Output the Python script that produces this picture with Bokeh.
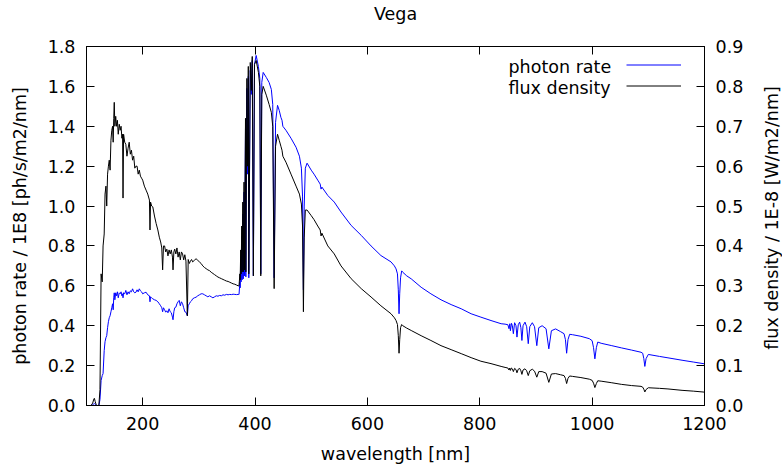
#Vega spectrum: photon rate and flux density vs wavelength
from bokeh.plotting import figure
from bokeh.layouts import row, column
from bokeh.models import (Range1d, LinearAxis, FixedTicker, PrintfTickFormatter,
                          Legend, LegendItem, Label, Spacer)
from bokeh.embed import file_html
from bokeh.resources import INLINE

#Ultraviolet part (100-370 nm)
uv_wl = [100, 108, 111, 113, 114, 115.5, 117, 119, 122, 124,
         126, 128, 129.5, 131.5, 133, 134.6, 136, 137.5, 139, 140.5,
         142, 143.5, 145, 146.4, 147.5, 148.5, 149.4, 150.5, 152, 153.5,
         155, 156.5, 158.3, 160, 161.5, 163, 164.2, 165, 166, 168,
         170, 172, 174, 176, 178, 180, 182, 184, 186, 188,
         190, 192, 194, 196, 198, 200, 203, 206, 209, 212,
         213, 214, 216, 218, 221, 224, 227, 229.6, 232, 234,
         235.5, 237, 239, 241, 243, 245, 247, 249, 251, 253,
         254, 255.5, 257, 259, 261, 263, 265, 267, 269, 271,
         273, 275, 277, 279.5, 281, 283, 285, 287, 289, 292,
         295, 298, 301, 304, 307, 310, 313, 316, 319, 322,
         325, 328, 331, 334, 337, 340, 343, 346, 349, 352,
         355, 358, 361, 364, 367, 370]
uv_photon = [0, 0, 0.003, 0.008, 0.010, 0.006, 0.002, 0, 0, 0.03,
             0.125, 0.15, 0.16, 0.275, 0.32, 0.34, 0.35, 0.39, 0.42, 0.44,
             0.45, 0.47, 0.49, 0.51, 0.48, 0.54, 0.565, 0.53, 0.565, 0.55,
             0.57, 0.54, 0.565, 0.56, 0.57, 0.55, 0.56, 0.54, 0.565, 0.56,
             0.577, 0.555, 0.57, 0.56, 0.575, 0.57, 0.585, 0.57, 0.565, 0.568,
             0.58, 0.57, 0.585, 0.575, 0.57, 0.56, 0.565, 0.568, 0.555, 0.55,
             0.52, 0.545, 0.54, 0.535, 0.53, 0.527, 0.52, 0.51, 0.50, 0.49,
             0.47, 0.49, 0.48, 0.468, 0.475, 0.465, 0.485, 0.47, 0.465, 0.443,
             0.43, 0.47, 0.49, 0.493, 0.51, 0.52, 0.527, 0.50, 0.52, 0.51,
             0.49, 0.47, 0.468, 0.45, 0.50, 0.51, 0.52, 0.525, 0.535, 0.54,
             0.543, 0.55, 0.555, 0.56, 0.56, 0.555, 0.55, 0.545, 0.55, 0.545,
             0.54, 0.545, 0.55, 0.548, 0.552, 0.55, 0.555, 0.553, 0.557, 0.555,
             0.557, 0.556, 0.558, 0.557, 0.556, 0.557]
uv_flux = [0, 0, 0.006, 0.016, 0.018, 0.010, 0.003, 0, 0, 0.04,
           0.33, 0.31, 0.40, 0.43, 0.53, 0.55, 0.50, 0.58, 0.60, 0.615,
           0.59, 0.665, 0.69, 0.70, 0.66, 0.72, 0.76, 0.70, 0.725, 0.70,
           0.715, 0.68, 0.705, 0.69, 0.70, 0.67, 0.68, 0.52, 0.68, 0.66,
           0.655, 0.625, 0.645, 0.66, 0.63, 0.64, 0.615, 0.625, 0.595, 0.60,
           0.60, 0.58, 0.59, 0.575, 0.57, 0.565, 0.55, 0.54, 0.53, 0.515,
           0.44, 0.51, 0.50, 0.498, 0.475, 0.456, 0.44, 0.422, 0.41, 0.395,
           0.34, 0.40, 0.40, 0.385, 0.392, 0.375, 0.39, 0.38, 0.39, 0.372,
           0.34, 0.385, 0.392, 0.38, 0.395, 0.372, 0.385, 0.365, 0.385, 0.38,
           0.365, 0.378, 0.362, 0.225, 0.366, 0.356, 0.362, 0.366, 0.36, 0.364,
           0.368, 0.364, 0.36, 0.356, 0.35, 0.346, 0.343, 0.34, 0.338, 0.334,
           0.331, 0.328, 0.325, 0.322, 0.32, 0.318, 0.316, 0.314, 0.312, 0.311,
           0.309, 0.307, 0.305, 0.304, 0.302, 0.300]

#Balmer lines (371-553 nm)
balmer_wl = [371.5, 373.0, 373.5, 374.5, 375.2, 376.3, 377.0, 378.2, 379.0, 380.4,
             381.2, 383.0, 383.6, 385.5, 386.5, 388.0, 388.9, 391.5, 393.4, 395.0,
             397.0, 399.0, 402.0, 406.0, 408.5, 410.2, 412.0, 414.5, 420.0, 425.0,
             429.0, 431.5, 434.0, 436.5, 440.0, 443.0, 446.0, 448.0, 449.5, 455.0,
             464.0, 473.0, 479.0, 482.5, 484.5, 486.1, 487.5, 489.5, 492.6, 500.0,
             505.0, 511.6, 516.0, 517.5, 519.0, 529.5, 541.0, 553.0]
balmer_photon = [0.557, 0.62, 0.59, 0.73, 0.62, 0.85, 0.63, 0.96, 0.635, 1.07,
                 0.65, 1.39, 0.645, 1.59, 1.16, 1.65, 0.64, 1.68, 1.56, 1.73,
                 0.65, 1.71, 1.755, 1.70, 1.64, 0.66, 1.62, 1.67, 1.645, 1.62,
                 1.585, 1.51, 0.64, 1.42, 1.505, 1.48, 1.445, 1.43, 1.40, 1.38,
                 1.34, 1.295, 1.25, 1.19, 1.05, 0.58, 1.00, 1.19, 1.215, 1.18,
                 1.16, 1.13, 1.11, 1.085, 1.095, 1.053, 1.02, 0.97]
balmer_flux = [0.300, 0.330, 0.315, 0.390, 0.330, 0.450, 0.335, 0.510, 0.335, 0.560,
               0.340, 0.720, 0.335, 0.820, 0.600, 0.850, 0.330, 0.860, 0.790, 0.875,
               0.325, 0.855, 0.865, 0.835, 0.800, 0.325, 0.780, 0.800, 0.778, 0.755,
               0.735, 0.700, 0.293, 0.650, 0.680, 0.665, 0.650, 0.640, 0.625, 0.610,
               0.580, 0.550, 0.530, 0.505, 0.450, 0.235, 0.420, 0.490, 0.490, 0.476,
               0.466, 0.450, 0.440, 0.425, 0.432, 0.400, 0.380, 0.350]

#Visible / H-alpha (571-845 nm)
red_wl = [571, 589, 606.5, 624, 642, 648, 651, 653.5, 655, 656.3,
          657.5, 659, 661, 663, 670, 678, 695.6, 713, 731, 749,
          767, 784.6, 802, 820, 838, 845]
red_photon = [0.903, 0.853, 0.800, 0.752, 0.720, 0.700, 0.685, 0.660, 0.580, 0.460,
              0.560, 0.640, 0.675, 0.668, 0.650, 0.635, 0.593, 0.560, 0.530, 0.506,
              0.485, 0.460, 0.443, 0.426, 0.410, 0.408]
red_flux = [0.318, 0.293, 0.272, 0.250, 0.230, 0.220, 0.213, 0.203, 0.175, 0.131,
            0.165, 0.195, 0.203, 0.200, 0.194, 0.188, 0.175, 0.163, 0.150, 0.140,
            0.130, 0.120, 0.111, 0.105, 0.098, 0.0955]

#Paschen lines (850-1200 nm)
ir_wl = [850, 852, 853.5, 854.5, 856.5, 858, 859.8, 862, 864.5, 866.2,
         868.5, 871, 873.2, 875, 877, 880.5, 883.5, 886.3, 889, 893.5,
         897.5, 901.5, 905, 911, 918, 922.9, 927.5, 935, 944, 950,
         952.5, 954.6, 957, 960, 965, 980, 995, 1000, 1002.5, 1004.9,
         1007.5, 1010, 1016, 1035, 1052, 1070, 1087, 1090, 1092, 1093.8,
         1096, 1100, 1120, 1135, 1160, 1180, 1200]
ir_photon = [0.405, 0.385, 0.41, 0.375, 0.412, 0.40, 0.36, 0.415, 0.40, 0.343,
             0.405, 0.418, 0.39, 0.326, 0.40, 0.418, 0.395, 0.31, 0.395, 0.415,
             0.395, 0.30, 0.39, 0.40, 0.385, 0.284, 0.375, 0.384, 0.37, 0.36,
             0.33, 0.262, 0.33, 0.357, 0.355, 0.347, 0.335, 0.325, 0.29, 0.234,
             0.29, 0.318, 0.312, 0.30, 0.289, 0.278, 0.267, 0.262, 0.235, 0.196,
             0.235, 0.256, 0.246, 0.239, 0.227, 0.218, 0.209]
ir_flux = [0.094, 0.089, 0.094, 0.088, 0.094, 0.092, 0.085, 0.093, 0.090, 0.082,
           0.091, 0.093, 0.087, 0.078, 0.089, 0.092, 0.087, 0.075, 0.087, 0.091,
           0.086, 0.071, 0.085, 0.085, 0.081, 0.058, 0.079, 0.080, 0.077, 0.075,
           0.068, 0.055, 0.068, 0.074, 0.073, 0.070, 0.066, 0.063, 0.056, 0.045,
           0.055, 0.062, 0.061, 0.057, 0.053, 0.050, 0.048, 0.046, 0.041, 0.034,
           0.040, 0.0445, 0.043, 0.0415, 0.038, 0.036, 0.0335]

wavelength = uv_wl + balmer_wl + red_wl + ir_wl
photon_rate = uv_photon + balmer_photon + red_photon + ir_photon
flux_density = uv_flux + balmer_flux + red_flux + ir_flux

x_ticks = [200, 400, 600, 800, 1000, 1200]
y_ticks = [0.0, 0.2, 0.4, 0.6, 0.8, 1.0, 1.2, 1.4, 1.6, 1.8]
y2_ticks = [0.0, 0.1, 0.2, 0.3, 0.4, 0.5, 0.6, 0.7, 0.8, 0.9]

FONT = "DejaVu Sans"
FS = "17.5px"
FRAME_W, FRAME_H = 618, 359


def style_axis(ax):
    ax.major_tick_in = 8
    ax.major_tick_out = 0
    ax.minor_tick_line_color = None
    ax.major_tick_line_color = "black"
    ax.axis_line_color = "black"
    ax.major_label_text_font = FONT
    ax.major_label_text_font_size = FS
    ax.major_label_text_color = "black"
    ax.major_label_standoff = 11
    ax.axis_label_text_font = FONT
    ax.axis_label_text_font_size = FS
    ax.axis_label_text_font_style = "normal"
    ax.axis_label_text_color = "black"


p = figure(frame_width=FRAME_W, frame_height=FRAME_H, output_backend="svg",
           toolbar_location=None, x_range=Range1d(100, 1200), y_range=Range1d(0, 1.8),
           min_border=0)
p.extra_y_ranges = {"flux": Range1d(0, 0.9)}
p.grid.visible = False
p.outline_line_color = "black"

r_photon = p.line(wavelength, photon_rate, color="#0000ff", line_width=1)
r_flux = p.line(wavelength, flux_density, color="black", line_width=1, y_range_name="flux")

bottom_axis = p.below[0]
left_axis = p.left[0]
#top axis: mirrored ticks, chart title as its label
top_axis = LinearAxis(ticker=FixedTicker(ticks=x_ticks), axis_label="Vega",
                      major_label_overrides={t: "" for t in x_ticks})
right_axis = LinearAxis(y_range_name="flux", ticker=FixedTicker(ticks=y2_ticks),
                        formatter=PrintfTickFormatter(format="%.1f"))
p.add_layout(top_axis, "above")
p.add_layout(right_axis, "right")

bottom_axis.ticker = FixedTicker(ticks=x_ticks)
bottom_axis.axis_label = "wavelength [nm]"
left_axis.ticker = FixedTicker(ticks=y_ticks)
left_axis.formatter = PrintfTickFormatter(format="%.1f")
left_axis.axis_label = "photon rate / 1E8 [ph/s/m2/nm]"

for ax in [bottom_axis, left_axis, top_axis, right_axis]:
    style_axis(ax)
top_axis.major_label_standoff = 0
top_axis.axis_label_standoff = 23
bottom_axis.axis_label_standoff = 11
left_axis.axis_label_standoff = 15

#gnuplot style key: text on the left, line sample on the right
for i, name in enumerate(["photon rate", "flux density"]):
    p.add_layout(Label(x=422, y=339 - 21 * i, x_units="screen", y_units="screen", text=name,
                       text_font=FONT, text_font_size=FS, text_baseline="middle",
                       text_color="black"))
key = Legend(items=[LegendItem(label="", renderers=[r_photon]),
                    LegendItem(label="", renderers=[r_flux])],
             location=(540, 309), glyph_width=55, glyph_height=21, label_width=0,
             label_height=21, label_standoff=0, padding=0, spacing=0, margin=0,
             background_fill_alpha=0, border_line_alpha=0)
p.add_layout(key)

#right-hand axis title, reading upwards (drawn as a left axis label of a tiny figure)
side = figure(frame_width=1, frame_height=FRAME_H, output_backend="svg", toolbar_location=None,
              x_axis_location=None, min_border=0, x_range=Range1d(0, 1), y_range=Range1d(0, 1))
side.grid.visible = False
side.outline_line_color = None
side_axis = side.left[0]
style_axis(side_axis)
side_axis.ticker = FixedTicker(ticks=[])
side_axis.axis_line_color = None
side_axis.axis_label = "flux density / 1E-8 [W/m2/nm]"
side_axis.axis_label_standoff = 0

page = row(Spacer(width=6), p, Spacer(width=12), column(Spacer(height=38), side))
open("out.html", "w").write(file_html(page, INLINE))
